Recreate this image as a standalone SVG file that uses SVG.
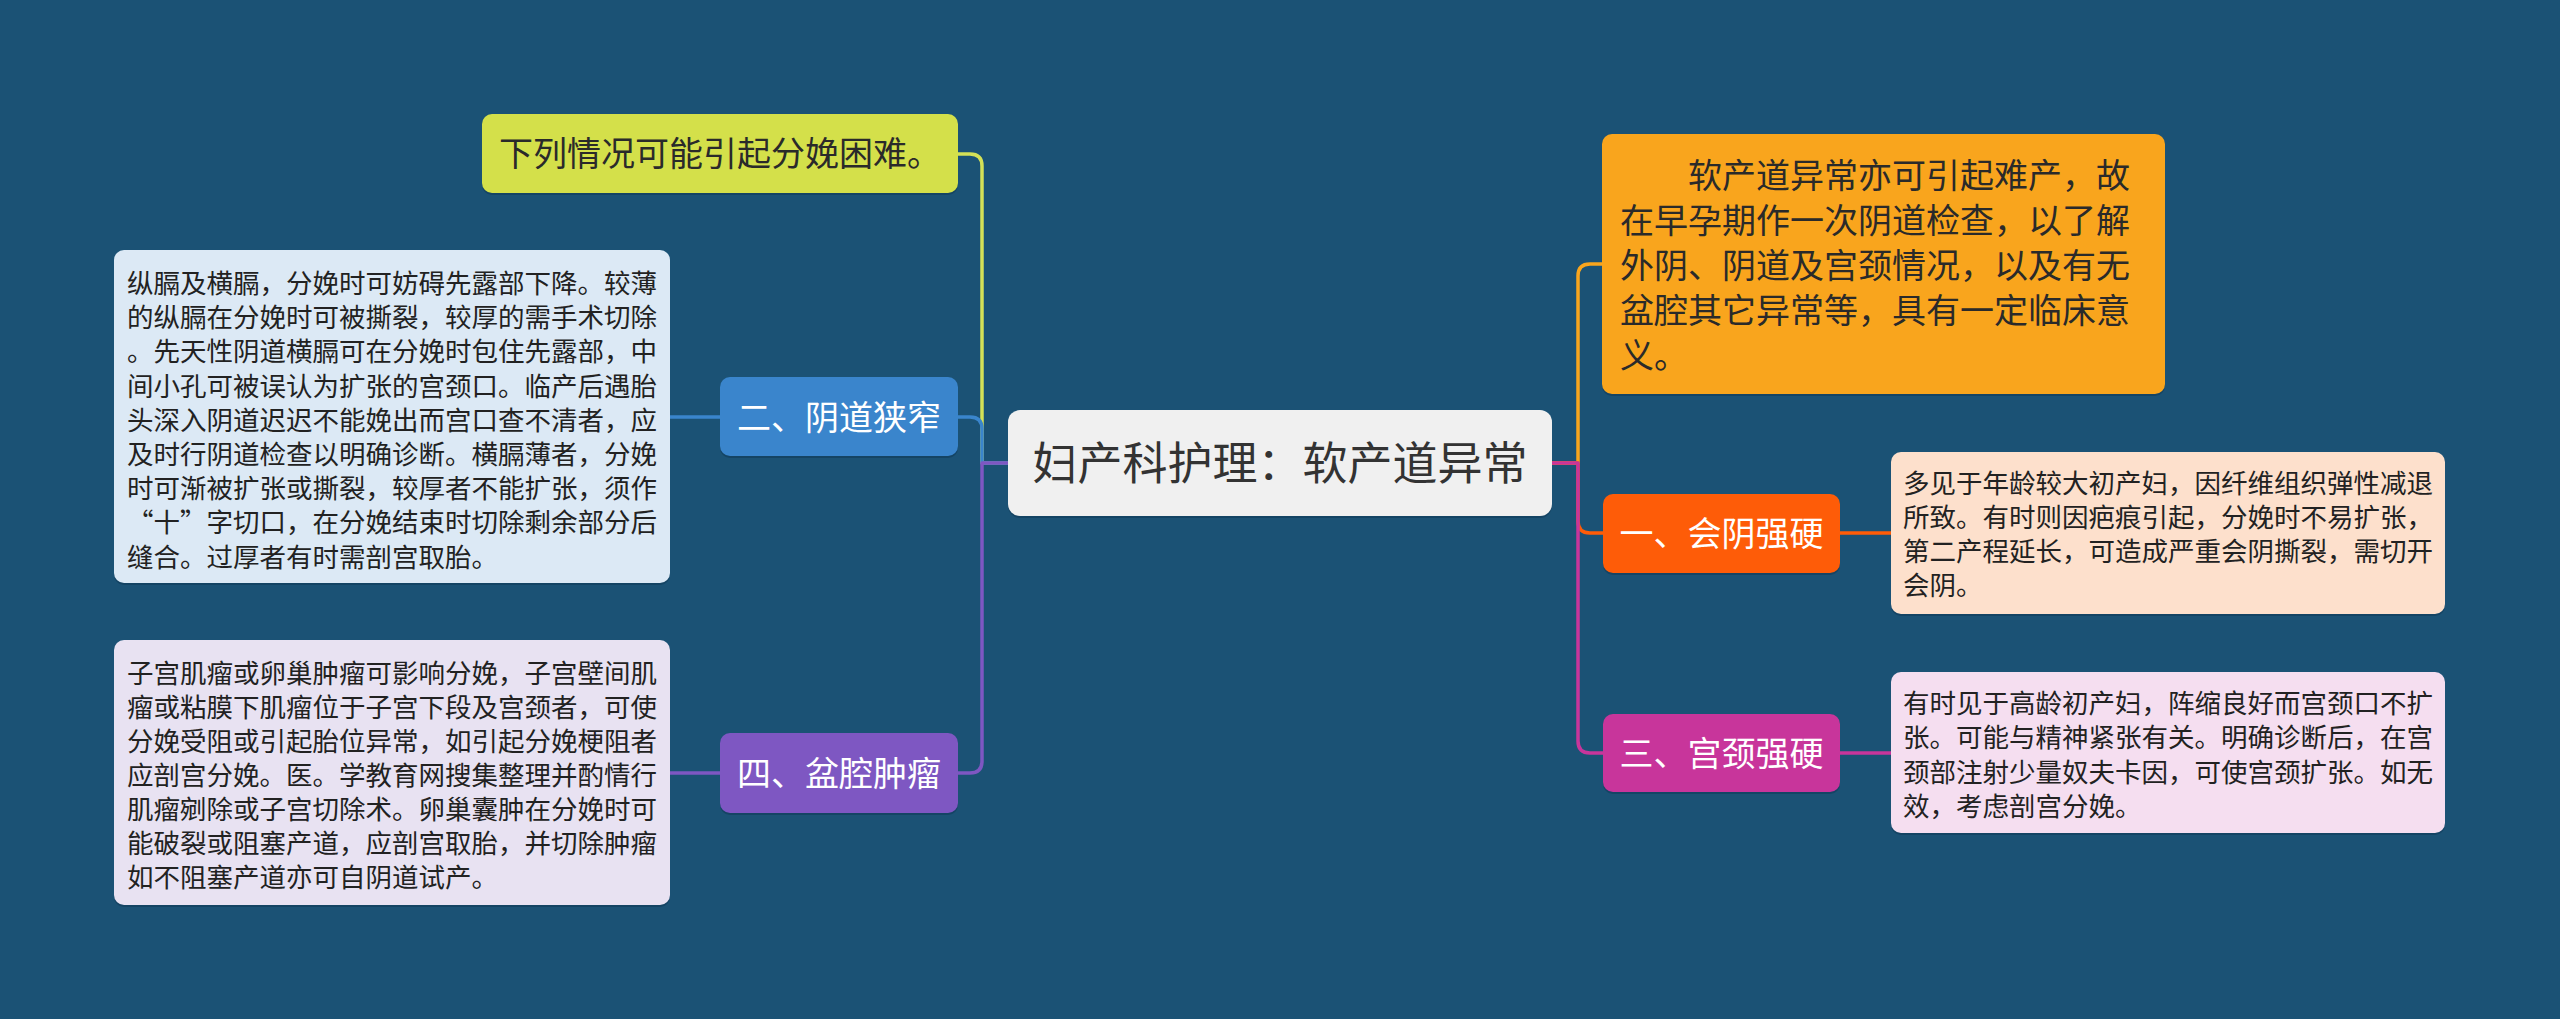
<svg xmlns="http://www.w3.org/2000/svg" width="2560" height="1019" viewBox="0 0 2560 1019">
<defs>
<style>
.conn{fill:none;stroke-width:3.5;stroke-linecap:round;stroke-linejoin:round}
.t{font-family:"Noto Sans CJK SC","Noto Sans",sans-serif}
.cat{font-size:34px;fill:#ffffff;text-anchor:middle}
.det{font-size:26.5px;fill:#222222}
.shadow{fill:#0e3350;opacity:0.45}
</style>
</defs>
<rect x="0" y="0" width="2560" height="1019" fill="#1b5275"/>

<g id="connectors">
<path class="conn" stroke="#d4e157" d="M1008,463 H982 V166 Q982,154 970,154 H958"/>
<path class="conn" stroke="#3a85cc" d="M1008,463 H982 V429 Q982,417 970,417 H958"/>
<path class="conn" stroke="#7e57c2" d="M1008,463 H982 V761 Q982,773 970,773 H958"/>
<path class="conn" stroke="#3a85cc" d="M720,417 H670"/>
<path class="conn" stroke="#7e57c2" d="M720,773 H670"/>
<path class="conn" stroke="#f9a51d" d="M1552,463 H1578 V276 Q1578,264 1590,264 H1602"/>
<path class="conn" stroke="#fe5c08" d="M1552,463 H1578 V521 Q1578,533 1590,533 H1603"/>
<path class="conn" stroke="#c8359b" d="M1552,463 H1578 V741 Q1578,753 1590,753 H1603"/>
<path class="conn" stroke="#fe5c08" d="M1840,533 H1891"/>
<path class="conn" stroke="#c8359b" d="M1840,753 H1891"/>
</g>

<g id="root">
<rect class="shadow" x="1008" y="412" width="544" height="106" rx="12"/>
<rect x="1008" y="410" width="544" height="106" rx="12" fill="#f0f0f0"/>
<text class="t" x="1280" y="480" font-size="45" fill="#333333" text-anchor="middle">妇产科护理：软产道异常</text>
</g>

<g id="node-intro">
<rect class="shadow" x="482" y="116" width="476" height="79" rx="10"/>
<rect x="482" y="114" width="476" height="79" rx="10" fill="#d4e04a"/>
<text class="t" x="720" y="166" font-size="34" fill="#2a2a2a" text-anchor="middle">下列情况可能引起分娩困难。</text>
</g>

<g id="node-2">
<rect class="shadow" x="720" y="379" width="238" height="79" rx="10"/>
<rect x="720" y="377" width="238" height="79" rx="10" fill="#3a85cc"/>
<text class="t cat" x="839" y="430">二、阴道狭窄</text>
</g>

<g id="node-2-detail">
<rect class="shadow" x="114" y="252" width="556" height="333" rx="10"/>
<rect x="114" y="250" width="556" height="333" rx="10" fill="#dce9f5"/>
<text class="t det" x="127" y="293">
<tspan x="127" y="293">纵膈及横膈，分娩时可妨碍先露部下降。较薄</tspan>
<tspan x="127" dy="34.2">的纵膈在分娩时可被撕裂，较厚的需手术切除</tspan>
<tspan x="127" dy="34.2">。先天性阴道横膈可在分娩时包住先露部，中</tspan>
<tspan x="127" dy="34.2">间小孔可被误认为扩张的宫颈口。临产后遇胎</tspan>
<tspan x="127" dy="34.2">头深入阴道迟迟不能娩出而宫口查不清者，应</tspan>
<tspan x="127" dy="34.2">及时行阴道检查以明确诊断。横膈薄者，分娩</tspan>
<tspan x="127" dy="34.2">时可渐被扩张或撕裂，较厚者不能扩张，须作</tspan>
<tspan x="127" dy="34.2">“十”字切口，在分娩结束时切除剩余部分后</tspan>
<tspan x="127" dy="34.2">缝合。过厚者有时需剖宫取胎。</tspan>
</text>
</g>

<g id="node-4">
<rect class="shadow" x="720" y="735" width="238" height="80" rx="10"/>
<rect x="720" y="733" width="238" height="80" rx="10" fill="#7e57c2"/>
<text class="t cat" x="839" y="786">四、盆腔肿瘤</text>
</g>

<g id="node-4-detail">
<rect class="shadow" x="114" y="642" width="556" height="265" rx="10"/>
<rect x="114" y="640" width="556" height="265" rx="10" fill="#e8e2f2"/>
<text class="t det" x="127" y="683">
<tspan x="127" y="683">子宫肌瘤或卵巢肿瘤可影响分娩，子宫壁间肌</tspan>
<tspan x="127" dy="34">瘤或粘膜下肌瘤位于子宫下段及宫颈者，可使</tspan>
<tspan x="127" dy="34">分娩受阻或引起胎位异常，如引起分娩梗阻者</tspan>
<tspan x="127" dy="34">应剖宫分娩。医。学教育网搜集整理并酌情行</tspan>
<tspan x="127" dy="34">肌瘤剜除或子宫切除术。卵巢囊肿在分娩时可</tspan>
<tspan x="127" dy="34">能破裂或阻塞产道，应剖宫取胎，并切除肿瘤</tspan>
<tspan x="127" dy="34">如不阻塞产道亦可自阴道试产。</tspan>
</text>
</g>

<g id="node-summary">
<rect class="shadow" x="1602" y="136" width="563" height="260" rx="10"/>
<rect x="1602" y="134" width="563" height="260" rx="10" fill="#f9a51d"/>
<text class="t" x="1620" y="187.5" font-size="34" fill="#2a2a2a" xml:space="preserve"><tspan x="1620" y="187.5">　　软产道异常亦可引起难产，故</tspan><tspan x="1620" dy="45">在早孕期作一次阴道检查，以了解</tspan><tspan x="1620" dy="45">外阴、阴道及宫颈情况，以及有无</tspan><tspan x="1620" dy="45">盆腔其它异常等，具有一定临床意</tspan><tspan x="1620" dy="45">义。</tspan></text>
</g>

<g id="node-1">
<rect class="shadow" x="1603" y="496" width="237" height="79" rx="10"/>
<rect x="1603" y="494" width="237" height="79" rx="10" fill="#fe5c08"/>
<text class="t cat" x="1721.5" y="546">一、会阴强硬</text>
</g>

<g id="node-1-detail">
<rect class="shadow" x="1891" y="454" width="554" height="162" rx="10"/>
<rect x="1891" y="452" width="554" height="162" rx="10" fill="#fde0cc"/>
<text class="t det" x="1903" y="493">
<tspan x="1903" y="493">多见于年龄较大初产妇，因纤维组织弹性减退</tspan>
<tspan x="1903" dy="34">所致。有时则因疤痕引起，分娩时不易扩张，</tspan>
<tspan x="1903" dy="34">第二产程延长，可造成严重会阴撕裂，需切开</tspan>
<tspan x="1903" dy="34">会阴。</tspan>
</text>
</g>

<g id="node-3">
<rect class="shadow" x="1603" y="716" width="237" height="78" rx="10"/>
<rect x="1603" y="714" width="237" height="78" rx="10" fill="#c8359b"/>
<text class="t cat" x="1721.5" y="766">三、宫颈强硬</text>
</g>

<g id="node-3-detail">
<rect class="shadow" x="1891" y="674" width="554" height="161" rx="10"/>
<rect x="1891" y="672" width="554" height="161" rx="10" fill="#f5def0"/>
<text class="t det" x="1903" y="713">
<tspan x="1903" y="713">有时见于高龄初产妇，阵缩良好而宫颈口不扩</tspan>
<tspan x="1903" dy="34.3">张。可能与精神紧张有关。明确诊断后，在宫</tspan>
<tspan x="1903" dy="34.3">颈部注射少量奴夫卡因，可使宫颈扩张。如无</tspan>
<tspan x="1903" dy="34.3">效，考虑剖宫分娩。</tspan>
</text>
</g>
</svg>
